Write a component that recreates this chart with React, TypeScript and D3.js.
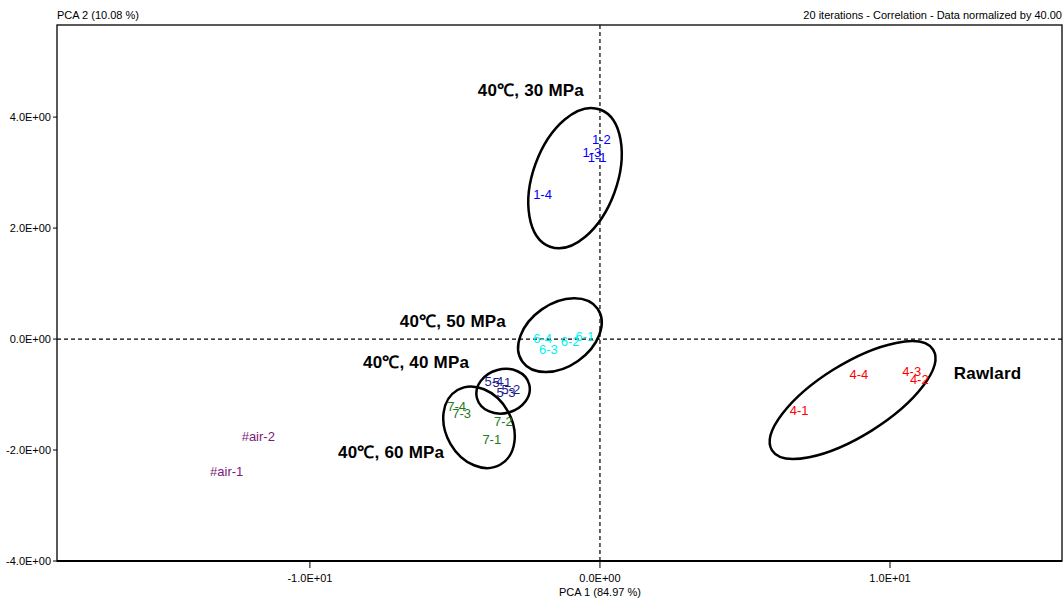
import React from "react";
import * as d3 from "d3";

// ---- data ----
const sampleLabels = ["1-2", "1-3", "1-1", "1-4", "6-4", "6-3", "6-2", "6-1", "5-4", "5-1", "5-2", "5-3", "7-4", "7-3", "7-2", "7-1", "4-4", "4-3", "4-2", "4-1", "#air-2", "#air-1"];
const pc1Values = [0.05, -0.28, -0.1, -1.98, -1.98, -1.78, -1.03, -0.52, -3.66, -3.38, -3.07, -3.24, -4.94, -4.77, -3.33, -3.73, 8.93, 10.75, 11.01, 6.87, -11.78, -12.87];
const pc2Values = [3.6, 3.37, 3.28, 2.61, 0.01, -0.19, -0.05, 0.04, -0.76, -0.79, -0.9, -0.97, -1.22, -1.34, -1.48, -1.81, -0.64, -0.58, -0.73, -1.29, -1.75, -2.38];
const sampleGroups = ["g1", "g1", "g1", "g1", "g6", "g6", "g6", "g6", "g5", "g5", "g5", "g5", "g7", "g7", "g7", "g7", "g4", "g4", "g4", "g4", "air", "air"];
const groupNames = ["g1", "g6", "g5", "g7", "g4", "air"];
const groupColors = ["#0000ff", "#00f0f0", "#1c1c8c", "#1e7a1e", "#ff0000", "#7a1a7a"];

const xTicks = [-10, 0, 10];
const xTickLabels = ["-1.0E+01", "0.0E+00", "1.0E+01"];
const yTicks = [4, 2, 0, -2, -4];
const yTickLabels = ["4.0E+00", "2.0E+00", "0.0E+00", "-2.0E+00", "-4.0E+00"];

// group ellipses: centre in data units
const ellipseCx = [-0.86, -1.38, -3.34, -4.17, 8.71];
const ellipseCy = [2.9, 0.07, -0.94, -1.59, -1.1];
const ellipseA = [73, 46, 27, 43, 95];
const ellipseB = [42, 31.5, 22, 33, 36];
const ellipseRot = [-70, -35, -15, 60, -32];

const annotTexts = ["40℃, 30 MPa", "40℃, 50 MPa", "40℃, 40 MPa", "40℃, 60 MPa", "Rawlard"];
const annotX = [-4.21, -6.9, -8.17, -9.03, 12.2];
const annotY = [4.48, 0.32, -0.41, -2.03, -0.62];

const W = 1064;
const H = 599;
const margin = { left: 57, right: 2, top: 25, bottom: 38 };
const font = "'Liberation Sans', Arial, sans-serif";

export default function App() {
  const x = d3.scaleLinear().domain([-18.72, 15.93]).range([margin.left, W - margin.right]);
  const y = d3.scaleLinear().domain([-4, 5.66]).range([H - margin.bottom, margin.top]);
  const color = d3.scaleOrdinal<string, string>().domain(groupNames).range(groupColors);
  const x0 = x.range()[0], x1 = x.range()[1];
  const y0 = y.range()[0], y1 = y.range()[1];

  return (
    <svg width={W} height={H} style={{ position: "absolute", left: 0, top: 0, background: "#fff" }} fontFamily={font}>
      <rect x={0} y={0} width={W} height={H} fill="#fff" />
      {/* frame */}
      <rect x={x0} y={y1} width={x1 - x0} height={y0 - y1} fill="none" stroke="#000" strokeWidth={1.3} />
      <line x1={x0} x2={x1} y1={y0} y2={y0} stroke="#000" strokeWidth={2} />
      {/* zero lines */}
      <line x1={x(0)} x2={x(0)} y1={y1} y2={y0} stroke="#000" strokeWidth={1.2} strokeDasharray="4,3" />
      <line x1={x0} x2={x1} y1={y(0)} y2={y(0)} stroke="#000" strokeWidth={1.2} strokeDasharray="4,3" />
      {/* y axis ticks */}
      {yTicks.map((t, i) => (
        <g key={"yt" + i}>
          <line x1={x0 - 4} x2={x0} y1={y(t)} y2={y(t)} stroke="#000" strokeWidth={1} />
          <text x={x0 - 6} y={y(t)} dy="0.35em" textAnchor="end" fontSize={11} fill="#000">{yTickLabels[i]}</text>
        </g>
      ))}
      {/* x axis ticks */}
      {xTicks.map((t, i) => (
        <g key={"xt" + i}>
          <line x1={x(t)} x2={x(t)} y1={y0} y2={y0 + 7} stroke="#000" strokeWidth={1} />
          <text x={x(t)} y={y0 + 21} textAnchor="middle" fontSize={11} fill="#000">{xTickLabels[i]}</text>
        </g>
      ))}
      <text x={x(0)} y={y0 + 35} textAnchor="middle" fontSize={11} fill="#000">PCA 1 (84.97 %)</text>
      <text x={x0} y={y1 - 6} textAnchor="start" fontSize={11} fill="#000">PCA 2 (10.08 %)</text>
      <text x={x1} y={y1 - 6} textAnchor="end" fontSize={11} fill="#000">20 iterations - Correlation - Data normalized by 40.00</text>
      {/* ellipses */}
      {ellipseCx.map((cx, i) => (
        <ellipse key={"el" + i} cx={0} cy={0} rx={ellipseA[i]} ry={ellipseB[i]}
          transform={`translate(${x(cx)},${y(ellipseCy[i])}) rotate(${ellipseRot[i]})`}
          fill="none" stroke="#000" strokeWidth={2.5} />
      ))}
      {/* sample labels */}
      {sampleLabels.map((lab, i) => (
        <text key={"s" + i} x={x(pc1Values[i])} y={y(pc2Values[i])} dy="0.35em" textAnchor="middle"
          fontSize={13} fill={color(sampleGroups[i])}>{lab}</text>
      ))}
      {/* annotations */}
      {annotTexts.map((t, i) => (
        <text key={"a" + i} x={x(annotX[i])} y={y(annotY[i])} dy="0.35em" textAnchor="start"
          fontSize={17} letterSpacing={0.2} fontWeight="bold" fill="#000">{t}</text>
      ))}
    </svg>
  );
}
